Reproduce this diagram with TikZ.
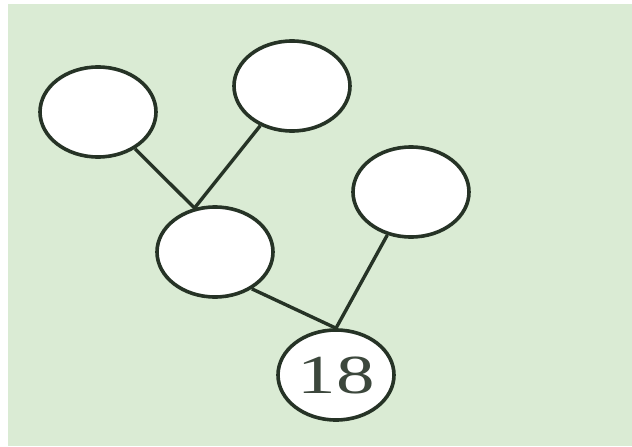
\documentclass[tikz,border=0pt]{standalone}
\usepackage{fontspec}
\usepackage{tikz}
\usetikzlibrary{shapes.geometric,positioning,calc}
\newfontfamily\numfont{Liberation Serif}
\definecolor{paper}{HTML}{DAEBD4}
\definecolor{ink}{HTML}{263326}

\begin{document}
\begin{tikzpicture}[
    x=1pt, y=-1pt,
    blank/.style={ellipse, draw=ink, fill=white, line width=3.6pt, minimum width=116pt, minimum height=90pt, inner sep=0pt, font=\numfont\fontsize{55}{55}\selectfont},
    link/.style={draw=ink, line width=3.4pt},
]

% Background
\useasboundingbox (0,0) rectangle (632,447);
\fill[paper] (8,4) rectangle (632,446);

% Number bonds
\node[blank] (topleft) at (98,112) {};
\node[blank] (topmid) at (292,86) {};
\node[blank] (right) at (411,192) {};
\node[blank] (mid) at (215,252) {};
\node[blank] (sum) at (336,375) {\color{ink!90}\scalebox{1.4}[1]{18}};

% Connections
\draw[link] (topleft) -- (mid.115);
\draw[link] (topmid) -- (mid.115);
\draw[link] (mid.-45) -- (sum.north);
\draw[link] (right) -- (sum.north);

\end{tikzpicture}
\end{document}
